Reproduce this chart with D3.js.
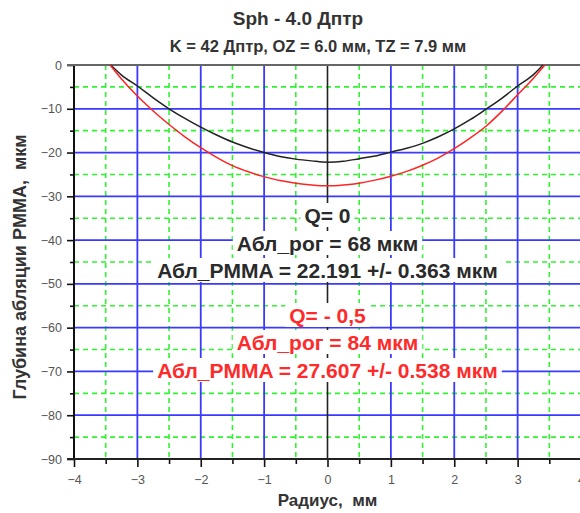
<!DOCTYPE html>
<html><head><meta charset="utf-8">
<script src="https://cdn.jsdelivr.net/npm/d3@7"></script>
<style>
body{margin:0;background:#fff;}
svg{display:block;font-family:"Liberation Sans",Arial,sans-serif;}
text{white-space:pre;}
</style></head>
<body><svg id="c" width="580" height="513"></svg>
<script>
// ---- data ----
const title = "Sph - 4.0 Дптр";
const subtitle = "K = 42 Дптр, OZ = 6.0 мм, TZ = 7.9 мм";
const xLabel = "Радиус,  мм";
const yLabel = "Глубина абляции PMMA,  мкм";
const xTicks = [-4,-3,-2,-1,0,1,2,3,4];
const xMinor = [-3.5,-2.5,-1.5,-0.5,0.5,1.5,2.5,3.5];
const yTicks = [0,-10,-20,-30,-40,-50,-60,-70,-80,-90];
const yMinor = [-5,-15,-25,-35,-45,-55,-65,-75,-85];

const blackX = [-3.42,-3.25,-3,-2.75,-2.5,-2.25,-2,-1.75,-1.5,-1.25,-1,-0.75,-0.5,-0.25,0,0.25,0.5,0.75,1,1.25,1.5,1.75,2,2.25,2.5,2.75,3,3.25,3.40];
const blackY = [0,-2.3,-4.8,-7.5,-10.0,-12.2,-14.2,-16.0,-17.6,-18.9,-20.0,-20.9,-21.5,-21.9,-22.2,-22.0,-21.4,-20.8,-19.9,-19.0,-17.9,-16.4,-14.6,-12.5,-10.1,-7.6,-4.8,-2.2,0];
const redX = [-3.43,-3.25,-3,-2.75,-2.5,-2.25,-2,-1.75,-1.5,-1.25,-1,-0.75,-0.5,-0.25,0,0.25,0.5,0.75,1,1.25,1.5,1.75,2,2.25,2.5,2.75,3,3.25,3.43];
const redY = [0,-3.2,-7.1,-10.5,-13.6,-16.4,-18.9,-21.1,-23.0,-24.4,-25.5,-26.4,-27.0,-27.4,-27.6,-27.4,-27.0,-26.3,-25.4,-24.3,-22.9,-21.2,-19.1,-16.7,-14.0,-10.6,-6.8,-3.0,0];

const blackNotes = ["Q= 0","Абл_рог = 68 мкм","Абл_PMMA = 22.191 +/- 0.363 мкм"];
const redNotes = ["Q= - 0,5","Абл_рог = 84 мкм","Абл_PMMA = 27.607 +/- 0.538 мкм"];

// ---- layout ----
const svg = d3.select("#c");
const x = d3.scaleLinear().domain([-4,4]).range([74,581]);
const y = d3.scaleLinear().domain([0,-90]).range([65,459]);
const xR = 580;

const grid = svg.append("g");
grid.selectAll(".hm").data(yMinor).join("line")
  .attr("x1",x(-4)).attr("x2",xR).attr("y1",d=>y(d)).attr("y2",d=>y(d))
  .attr("stroke","#2ef52e").attr("stroke-width",1.6).attr("stroke-dasharray","5,4");
grid.selectAll(".vm").data(xMinor).join("line")
  .attr("y1",y(0)).attr("y2",y(-90)).attr("x1",d=>x(d)).attr("x2",d=>x(d))
  .attr("stroke","#2ef52e").attr("stroke-width",1.6).attr("stroke-dasharray","5,4");
grid.selectAll(".hM").data(yTicks.filter(d=>d<0&&d>-90)).join("line")
  .attr("x1",x(-4)).attr("x2",xR).attr("y1",d=>y(d)).attr("y2",d=>y(d))
  .attr("stroke","#3a3aff").attr("stroke-width",1.8);
grid.selectAll(".vM").data(xTicks.filter(d=>d>-4&&d<4&&d!==0)).join("line")
  .attr("y1",y(0)).attr("y2",y(-90)).attr("x1",d=>x(d)).attr("x2",d=>x(d))
  .attr("stroke","#3a3aff").attr("stroke-width",1.8);
grid.append("line").attr("x1",x(0)).attr("x2",x(0)).attr("y1",y(0)).attr("y2",y(-90))
  .attr("stroke","#222").attr("stroke-width",1.6);

// axes
const tickCol = "#555";
const gL = svg.append("g").attr("transform",`translate(${x(-4)},0)`)
  .call(d3.axisLeft(y).tickValues(yTicks).tickSize(7).tickPadding(5).tickFormat(d3.format("d")));
const gLm = svg.append("g").attr("transform",`translate(${x(-4)},0)`)
  .call(d3.axisLeft(y).tickValues(yMinor).tickSize(4).tickFormat(""));
const gB = svg.append("g").attr("transform",`translate(0,${y(-90)})`)
  .call(d3.axisBottom(x).tickValues(xTicks).tickSize(8).tickPadding(8).tickFormat(d3.format("d")));
const gBm = svg.append("g").attr("transform",`translate(0,${y(-90)})`)
  .call(d3.axisBottom(x).tickValues(xMinor).tickSize(5).tickFormat(""));
[gL,gLm,gB,gBm].forEach(g=>{
  g.select(".domain").remove();
  g.selectAll(".tick line").attr("stroke","#111").attr("stroke-width",1.6);
  g.selectAll(".tick text").attr("fill",tickCol).attr("font-size",12.5)
   .attr("font-family","'Liberation Sans',Arial,sans-serif");
});
svg.append("line").attr("x1",x(-4)).attr("x2",x(-4)).attr("y1",y(0)).attr("y2",y(-90))
  .attr("stroke","#111").attr("stroke-width",2);
svg.append("line").attr("x1",x(-4)-7).attr("x2",xR).attr("y1",y(-90)).attr("y2",y(-90))
  .attr("stroke","#222").attr("stroke-width",2);
svg.append("line").attr("x1",x(-4)-7).attr("x2",xR).attr("y1",y(0)).attr("y2",y(0))
  .attr("stroke","#666").attr("stroke-width",2);

// curves
const line = d3.line().x(d=>x(d[0])).y(d=>y(d[1])).curve(d3.curveMonotoneX);
svg.append("path").datum(blackX.map((v,i)=>[v,blackY[i]])).attr("d",line)
  .attr("fill","none").attr("stroke","#222").attr("stroke-width",1.5);
svg.append("path").datum(redX.map((v,i)=>[v,redY[i]])).attr("d",line)
  .attr("fill","none").attr("stroke","#ff2424").attr("stroke-width",1.5);

// notes with white backgrounds
function note(txt, cy, color){
  const g = svg.append("g");
  const t = g.append("text").attr("x",x(0)).attr("y",cy).attr("text-anchor","middle")
    .attr("dominant-baseline","central").attr("font-size",21).attr("font-weight","bold")
    .attr("fill",color).text(txt);
  const b = t.node().getBBox();
  g.insert("rect","text").attr("x",b.x-4).attr("y",cy-12).attr("width",b.width+8).attr("height",24)
    .attr("fill","#fff");
}
const blackRows = [215,243,270];
const redRows = [315,342,370];
blackNotes.forEach((s,i)=>note(s,blackRows[i],"#2a2a2a"));
redNotes.forEach((s,i)=>note(s,redRows[i],"#ff2a2a"));

// titles
svg.append("text").attr("x",298).attr("y",25).attr("text-anchor","middle")
  .attr("font-size",19).attr("font-weight","bold").attr("fill","#333").text(title);
svg.append("text").attr("x",318).attr("y",52).attr("text-anchor","middle")
  .attr("font-size",16.5).attr("font-weight","bold").attr("fill","#333").text(subtitle);
svg.append("text").attr("x",x(0)).attr("y",506).attr("text-anchor","middle")
  .attr("font-size",17).attr("font-weight","bold").attr("fill","#333").text(xLabel);
svg.append("text").attr("transform",`translate(26,267) rotate(-90)`).attr("text-anchor","middle")
  .attr("font-size",18).attr("font-weight","bold").attr("fill","#333").text(yLabel);
</script></body></html>
